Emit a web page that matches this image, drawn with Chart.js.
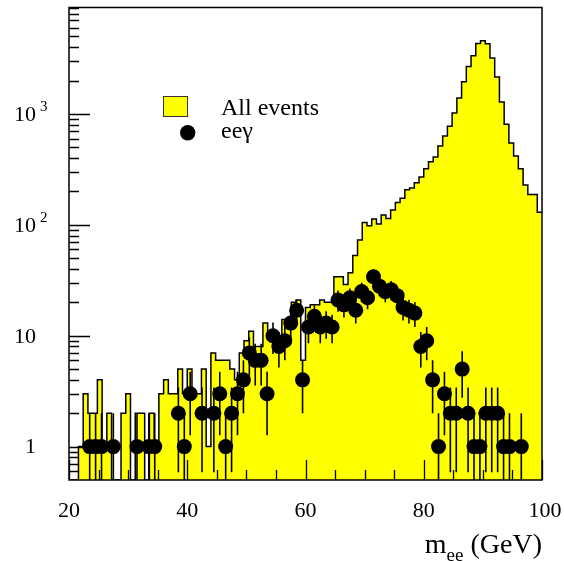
<!DOCTYPE html>
<html>
<head>
<meta charset="utf-8">
<script src="https://cdn.jsdelivr.net/npm/chart.js@4.4.0/dist/chart.umd.min.js"></script>
<style>
  html, body { margin: 0; padding: 0; background: #fff; }
  canvas { display: block; }
</style>
</head>
<body>
<canvas id="mee" width="564" height="561"></canvas>
<script>
// all events: m_ee histogram, 0.8 GeV bins from 20 to 100 GeV
const histLow = 20;
const histBinWidth = 0.8;
const allEvents = [
  0, 0, 1, 3, 2, 2, 4, 1, 2, 0,
  0, 2, 3, 0, 2, 2, 0, 2, 1, 3,
  4, 3, 3, 5, 3, 5, 3, 3, 5, 1,
  7, 6, 6, 6, 5, 4, 7, 9, 11, 8,
  8, 13, 10, 9, 10, 14, 12, 20, 21, 6,
  18, 19, 19, 21, 20, 20, 34, 34, 29, 37,
  53, 73, 105, 98, 113, 102, 123, 114, 136, 159,
  174, 207, 215, 240, 270, 320, 370, 410, 515, 634,
  775, 1020, 1390, 1950, 2680, 3350, 4330, 4570, 4300, 3200,
  2150, 1280, 808, 548, 417, 320, 229, 188, 188, 130
];

// ee-gamma events, 1 GeV bins (bin centres)
const eegMass = [
  23.5, 24.5, 25.5, 27.5, 31.5, 33.5, 34.5, 38.5, 39.5, 40.5,
  42.5, 44.5, 45.5, 46.5, 47.5, 48.5, 49.5, 50.5, 51.5, 52.5,
  53.5, 54.5, 55.5, 56.5, 57.5, 58.5, 59.5, 60.5, 61.5, 62.5,
  63.5, 64.5, 65.5, 66.5, 67.5, 68.5, 69.5, 70.5, 71.5, 72.5,
  73.5, 74.5, 75.5, 76.5, 77.5, 78.5, 79.5, 80.5, 81.5, 82.5,
  83.5, 84.5, 85.5, 86.5, 87.5, 88.5, 89.5, 90.5, 91.5, 92.5,
  93.5, 94.5, 96.5
];
const eegCount = [
  1, 1, 1, 1, 1, 1, 1, 2, 1, 3,
  2, 2, 3, 1, 2, 3, 4, 7, 6, 6,
  3, 10, 8, 9, 13, 17, 4, 12, 15, 12,
  13, 12, 21, 19, 22, 17, 25, 22, 34, 28,
  25, 26, 23, 18, 17, 16, 8, 9, 4, 1,
  3, 2, 2, 5, 2, 1, 1, 2, 2, 2,
  1, 1, 1
];

// axis
const xMin = 20, xMax = 100;
const yMin = 0.5, yMax = 9125;
const xMajor = [20, 40, 60, 80, 100];
const yLabelValues = [1, 10, 100, 1000];
const yLabelBase = ['1', '10', '10', '10'];
const yLabelExp = ['', '', '2', '3'];

const legendLabels = ['All events', 'ee\u03b3'];
const serif = '"Liberation Serif", "DejaVu Serif", serif';

// histogram as steps: one point per left bin edge plus the right edge
const histPoints = allEvents.map((v, i) => ({ x: histLow + i * histBinWidth, y: v > 0 ? v : yMin }));
histPoints.push({ x: xMax, y: allEvents[allEvents.length - 1] });

const dotPoints = eegMass.map((m, i) => ({ x: m, y: eegCount[i] }));

// sqrt(N) error bars, split with nulls
const errPoints = [];
eegMass.forEach((m, i) => {
    const n = eegCount[i];
    const lo = n - Math.sqrt(n);
    errPoints.push({ x: m, y: lo > yMin ? lo : yMin });
    errPoints.push({ x: m, y: n + Math.sqrt(n) });
    errPoints.push({ x: m, y: null });
});

const framePlugin = {
    id: 'framePlugin',
    afterDraw(chart) {
        const { ctx, chartArea: a, scales: { x, y } } = chart;
        ctx.save();
        ctx.strokeStyle = '#000';
        ctx.lineWidth = 1.3;

        // x ticks
        ctx.beginPath();
        for (let v = xMin; v <= xMax; v += 5) {
            const px = Math.round(x.getPixelForValue(v)) + 0.5;
            const len = v % 20 === 0 ? 20 : 10;
            ctx.moveTo(px, a.bottom);
            ctx.lineTo(px, a.bottom - len);
        }
        // y ticks
        for (let d = -1; d <= 3; d++) {
            for (let k = 1; k <= 9; k++) {
                const v = k * Math.pow(10, d);
                if (v <= yMin || v >= yMax) continue;
                const py = Math.round(y.getPixelForValue(v)) + 0.5;
                const len = k === 1 ? 21 : 10;
                ctx.moveTo(a.left, py);
                ctx.lineTo(a.left + len, py);
            }
        }
        ctx.stroke();

        // frame
        ctx.lineWidth = 1.5;
        ctx.strokeRect(a.left, a.top, a.right - a.left, a.bottom - a.top);

        // x labels
        ctx.fillStyle = '#000';
        ctx.font = '22px ' + serif;
        ctx.textAlign = 'center';
        ctx.textBaseline = 'alphabetic';
        xMajor.forEach(v => {
            ctx.fillText(String(v), x.getPixelForValue(v) + (v === 100 ? 3 : 0), 517);
        });

        // y labels
        yLabelValues.forEach((v, i) => {
            const py = y.getPixelForValue(v);
            ctx.font = '22px ' + serif;
            ctx.textAlign = 'right';
            ctx.textBaseline = 'middle';
            ctx.fillText(yLabelBase[i], 36, py + 1);
            if (yLabelExp[i]) {
                ctx.font = '15px ' + serif;
                ctx.textAlign = 'left';
                ctx.fillText(yLabelExp[i], 40, py - 7);
            }
        });

        // x title: m_ee (GeV)
        ctx.textAlign = 'left';
        ctx.textBaseline = 'alphabetic';
        ctx.font = '28px ' + serif;
        const tail = ' (GeV)';
        const wTail = ctx.measureText(tail).width;
        const wM = ctx.measureText('m').width;
        ctx.font = '19px ' + serif;
        const wSub = ctx.measureText('ee').width;
        let tx = 542 - wTail - wSub - wM;
        ctx.font = '28px ' + serif;
        ctx.fillText('m', tx, 553);
        tx += wM;
        ctx.font = '19px ' + serif;
        ctx.fillText('ee', tx, 561);
        tx += wSub;
        ctx.font = '28px ' + serif;
        ctx.fillText(tail, tx, 553);

        // legend
        ctx.fillStyle = '#ffff00';
        ctx.fillRect(163.5, 96.5, 24, 20);
        ctx.strokeStyle = '#333';
        ctx.lineWidth = 1;
        ctx.strokeRect(163.5, 96.5, 24, 20);
        ctx.fillStyle = '#000';
        ctx.beginPath();
        ctx.arc(187.7, 132.7, 7.7, 0, Math.PI * 2);
        ctx.fill();
        ctx.font = '24px ' + serif;
        ctx.fillText(legendLabels[0], 221, 115);
        ctx.fillText(legendLabels[1], 221, 138);

        ctx.restore();
    }
};

new Chart(document.getElementById('mee'), {
    type: 'line',
    data: {
        datasets: [
            {
                label: legendLabels[1],
                type: 'scatter',
                data: dotPoints,
                pointRadius: 7.5,
                pointHoverRadius: 7.5,
                pointBackgroundColor: '#000',
                pointBorderWidth: 0,
                order: 1
            },
            {
                label: 'errors',
                data: errPoints,
                borderColor: '#000',
                borderWidth: 1.6,
                pointRadius: 0,
                spanGaps: false,
                fill: false,
                order: 2
            },
            {
                label: legendLabels[0],
                data: histPoints,
                stepped: 'before',
                borderColor: '#000',
                borderWidth: 1.5,
                backgroundColor: '#ffff00',
                fill: 'start',
                pointRadius: 0,
                order: 3
            }
        ]
    },
    options: {
        responsive: false,
        animation: false,
        devicePixelRatio: 1,
        layout: { padding: { left: 69, top: 7, right: 22, bottom: 81 } },
        plugins: {
            legend: { display: false },
            tooltip: { enabled: false }
        },
        scales: {
            x: { type: 'linear', min: xMin, max: xMax, display: false },
            y: { type: 'logarithmic', min: yMin, max: yMax, display: false }
        }
    },
    plugins: [framePlugin]
});
</script>
</body>
</html>
